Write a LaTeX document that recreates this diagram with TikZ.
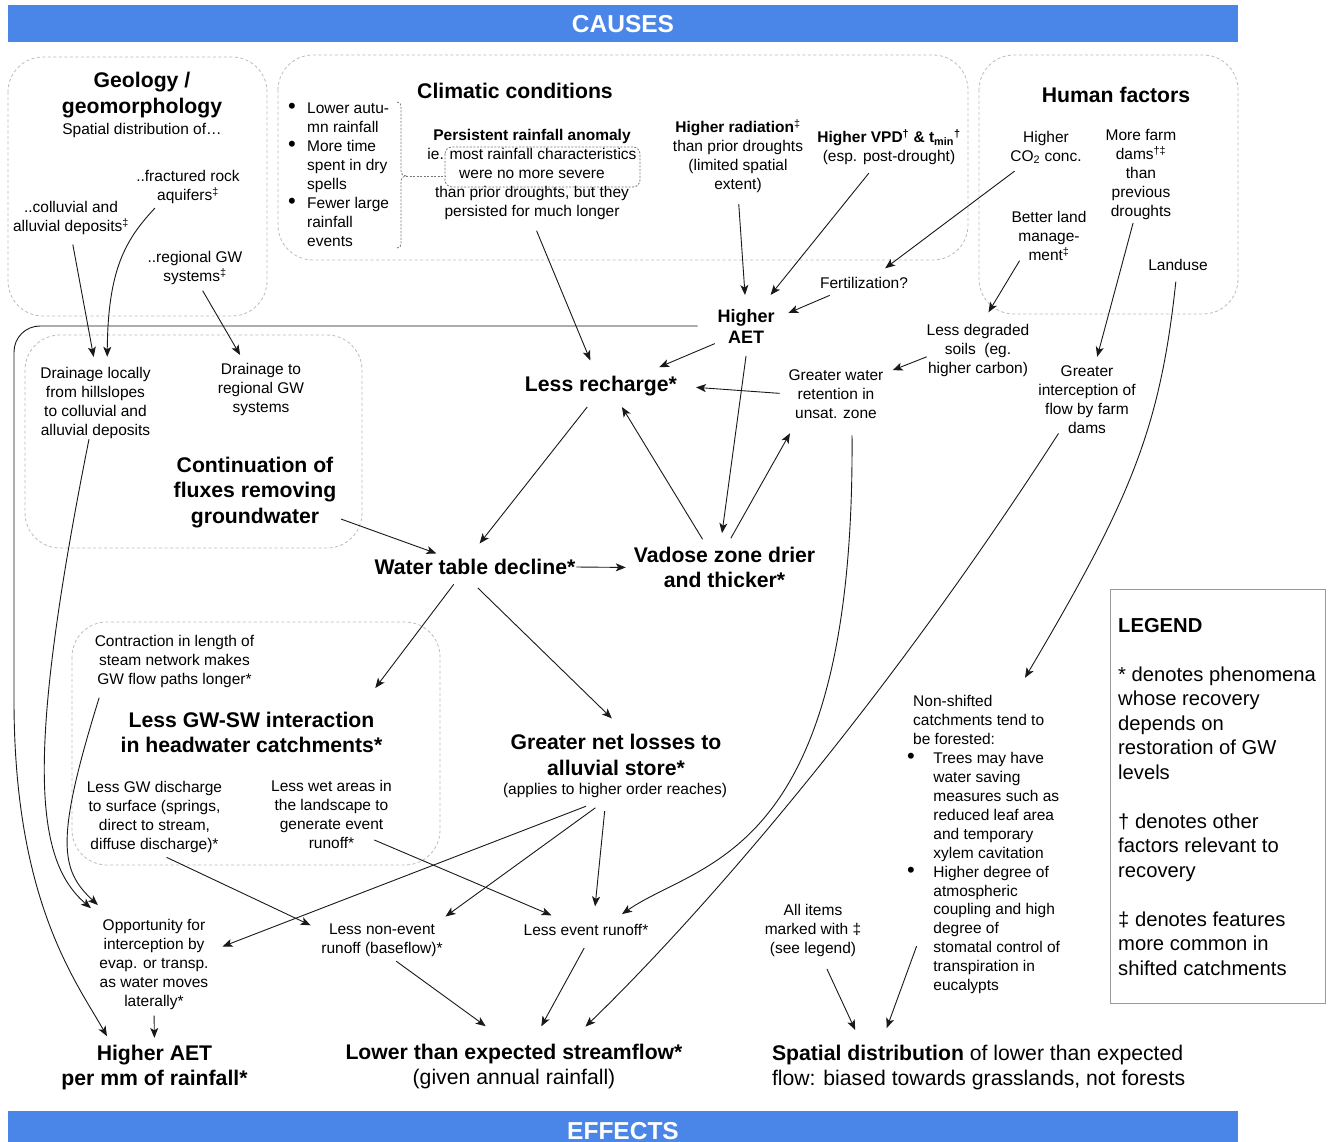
\documentclass[tikz,border=0pt]{standalone}
\usepackage{fontspec}
\setmainfont{Liberation Sans}
\usetikzlibrary{arrows.meta}
\definecolor{banner}{HTML}{4A86E8}
\definecolor{grpc}{HTML}{BBBBBB}
\definecolor{legc}{HTML}{999999}
\definecolor{bracc}{HTML}{777777}
\tikzset{
 sm/.style={font=\fontsize{15.5}{19}\selectfont, align=center, inner sep=0pt, outer sep=0pt},
 smb/.style={sm, font=\bfseries\fontsize{15.5}{19}\selectfont},
 big/.style={font=\bfseries\fontsize{21.2}{25.5}\selectfont, align=center, inner sep=0pt, outer sep=0pt},
 aetst/.style={font=\bfseries\fontsize{18}{21}\selectfont, align=center, inner sep=0pt, outer sep=0pt},
 bantext/.style={font=\bfseries\fontsize{24.5}{28}\selectfont, text=white, inner sep=0pt},
 arr/.style={draw=black!90, line width=0.9pt, -{Stealth[length=10pt,width=8pt,inset=2.5pt]}},
 grp/.style={draw=grpc, line width=0.8pt, dash pattern=on 3pt off 2.5pt, rounded corners=35pt},
 brk/.style={draw=bracc, line width=0.8pt, dash pattern=on 2pt off 1.5pt},
}
\newcommand{\bigbul}{{\fontsize{22}{19}\selectfont\textbullet}}
\begin{document}
\begin{tikzpicture}[x=1pt,y=-1pt]
\useasboundingbox (0,0) rectangle (1328,1142);
\fill[white] (0,0) rectangle (1328,1142);

% banners
\fill[banner] (8,5) rectangle (1238,42);
\node[bantext] (causes) at (623,24) {CAUSES};
\fill[banner] (8,1111) rectangle (1238,1142);
\node[bantext] (effects) at (623,1131) {EFFECTS};

% group boxes
\draw[grp] (8,57) rectangle (267,316);
\draw[grp] (278,55) rectangle (968,260);
\draw[grp] (979,55) rectangle (1238,314);
\draw[grp] (25,335) rectangle (362,548);
\draw[grp] (72,622) rectangle (440,865);

% legend box
\draw[draw=legc, line width=1pt] (1110,589) rectangle (1325,1003);

% Geology
\node[big] (geo) at (142,95) {Geology /\\geomorphology};
\node[sm] (spat) at (142,130) {Spatial distribution of…};
\node[sm] (frac) at (188,187) {..fractured rock\\aquifers\textsuperscript{‡}};
\node[sm] (coll) at (71,218) {..colluvial and\\alluvial deposits\textsuperscript{‡}};
\node[sm] (reg) at (195,268) {..regional GW\\systems\textsuperscript{‡}};

% Climatic
\node[big] (clim) at (515,91) {Climatic conditions};
\node[anchor=north west, inner sep=0pt, font=\fontsize{15.5}{19}\selectfont] (clist) at (288,100)
 {\begin{tabular}{@{}l@{\hspace{11.3pt}}l@{}}
 \bigbul & Lower autu-\\
 & mn rainfall\\
 \bigbul & More time\\
 & spent in dry\\
 & spells\\
 \bigbul & Fewer large\\
 & rainfall\\
 & events
 \end{tabular}};
\draw[brk] (397,102) .. controls (400,102) and (401,104) .. (401,107) -- (401,171)
 .. controls (401,174) and (403,176) .. (406,176) .. controls (403,176) and (401,178) .. (401,181)
 -- (401,243) .. controls (401,246) and (400,248) .. (397,248);
\draw[brk] (406,176) -- (445,176);
\draw[brk, rounded corners=7pt] (445,147) rectangle (640,187);
\node[smb] (pers) at (532,136) {Persistent rainfall anomaly};
\node[sm] (pers2) at (532,184) {ie. most rainfall characteristics\\were no more severe\\than prior droughts, but they\\persisted for much longer};
\node[sm] (rad) at (738,156.5) {\textbf{Higher radiation}\textsuperscript{‡}\\than prior droughts\\(limited spatial\\extent)};
\node[sm] (vpd) at (889,147) {\textbf{Higher VPD\textsuperscript{†} \& t\textsubscript{min}\textsuperscript{†}}\\(esp. post-drought)};

% Human factors
\node[big] (hum) at (1116,95) {Human factors};
\node[sm] (co2) at (1046,147.5) {Higher\\CO\textsubscript{2} conc.};
\node[sm] (farm) at (1141,175) {More farm\\dams\textsuperscript{†‡}\\than\\previous\\droughts};
\node[sm] (better) at (1049,236) {Better land\\manage-\\ment\textsuperscript{‡}};
\node[sm] (landuse) at (1178,265) {Landuse};

% middle
\node[sm] (fert) at (864,283) {Fertilization?};
\node[aetst] (aet) at (746,326) {Higher\\AET};
\node[big] (lr) at (601,386) {Less recharge*};
\node[sm] (gwr) at (836,394) {Greater water\\retention in\\unsat. zone};
\node[sm] (ldeg) at (978,350.5) {Less degraded\\soils\ \ (eg.\\higher carbon)};
\node[sm] (ginter) at (1087,399.5) {Greater\\interception of\\flow by farm\\dams};
\node[sm] (dloc) at (95.5,402.5) {Drainage locally\\from hillslopes\\to colluvial and\\alluvial deposits};
\node[sm] (dreg) at (261,389) {Drainage to\\regional GW\\systems};
\node[big] (cont) at (255,492.5) {Continuation of\\fluxes removing\\groundwater};
\node[big] (wtd) at (475,567) {Water table decline*};
\node[big] (vad) at (724.5,567.5) {Vadose zone drier\\and thicker*};
\node[sm] (contr) at (174.5,661) {Contraction in length of\\steam network makes\\GW flow paths longer*};
\node[big] (gwsw) at (251.5,732.5) {Less GW-SW interaction\\in headwater catchments*};
\node[sm] (lgwd) at (154.5,816.5) {Less GW discharge\\to surface (springs,\\direct to stream,\\diffuse discharge)*};
\node[sm] (lwet) at (331.5,814) {Less wet areas in\\the landscape to\\generate event\\runoff*};
\node[big] (gnl) at (616,755) {Greater net losses to\\alluvial store*};
\node[sm] (app) at (615,790) {(applies to higher order reaches)};

\node[anchor=north west, inner sep=0pt, font=\fontsize{15.5}{18.93}\selectfont] (ns) at (907,693.3)
 {\begin{tabular}{@{}l@{\hspace{18.5pt}}l@{}}
 \multicolumn{2}{@{\hspace{6pt}}l@{}}{Non-shifted}\\
 \multicolumn{2}{@{\hspace{6pt}}l@{}}{catchments tend to}\\
 \multicolumn{2}{@{\hspace{6pt}}l@{}}{be forested:}\\
 \bigbul & Trees may have\\
 & water saving\\
 & measures such as\\
 & reduced leaf area\\
 & and temporary\\
 & xylem cavitation\\
 \bigbul & Higher degree of\\
 & atmospheric\\
 & coupling and high\\
 & degree of\\
 & stomatal control of\\
 & transpiration in\\
 & eucalypts
 \end{tabular}};

\node[anchor=north west, inner sep=0pt, font=\fontsize{20.2}{24.5}\selectfont] (leg) at (1118,615)
 {\begin{tabular}{@{}l@{}}
 \textbf{LEGEND}\\
 \relax\\
 {*} denotes phenomena\\
 whose recovery\\
 depends on\\
 restoration of GW\\
 levels\\
 \relax\\
 {†} denotes other\\
 factors relevant to\\
 recovery\\
 \relax\\
 {‡} denotes features\\
 more common in\\
 shifted catchments
 \end{tabular}};

% bottom
\node[sm] (opp) at (154,964.5) {Opportunity for\\interception by\\evap. or transp.\\as water moves\\laterally*};
\node[sm] (lne) at (382,940) {Less non-event\\runoff (baseflow)*};
\node[sm] (lev) at (586,930) {Less event runoff*};
\node[sm] (alli) at (813,930) {All items\\marked with ‡\\(see legend)};
\node[big] (haet2) at (154.5,1067.5) {Higher AET\\per mm of rainfall*};
\node[sm, font=\fontsize{21.2}{25.5}\selectfont] (lower) at (514,1066.5) {\textbf{Lower than expected streamflow*}\\(given annual rainfall)};
\node[sm, align=left, anchor=north west, font=\fontsize{21.2}{25.5}\selectfont] (sdist) at (772,1045) {\textbf{Spatial distribution} of lower than expected\\flow: biased towards grasslands, not forests};

% connectors
\draw[arr, shorten <=10pt, shorten >=10pt] (coll.south) -- (dloc.north);
\draw[arr, shorten <=6pt, shorten >=10pt] (frac.-150) .. controls (125,240) and (108,270) .. (dloc.72);
\draw[arr, shorten <=7pt, shorten >=9pt] (reg.-76) -- (dreg.122);
\draw[arr, shorten <=12pt, shorten >=17pt] (pers2.south) -- (lr.113);
\draw[arr, shorten <=11pt, shorten >=14pt] (rad.south) -- (aet.north);
\draw[arr, shorten <=11pt, shorten >=18pt] (vpd.-127) -- (aet.52);
\draw[arr, shorten <=12pt, shorten >=15pt] (co2.-143.5) -- (fert.32.5);
\draw[arr, shorten <=17pt, shorten >=15pt] (fert.-163) -- (aet.14);
\draw[arr, shorten >=14pt] (better.-140) -- (ldeg.83);
\draw[arr, shorten <=3pt, shorten >=9pt] (farm.-99) -- (ginter.77.5);
\draw[arr, shorten <=11pt, shorten >=18pt] (landuse.-100) .. controls (1160,430) and (1130,500) .. (ns.78);
\draw[arr, shorten <=3pt, shorten >=23pt] (aet.-150) -- (lr.15);
\draw[arr, shorten <=13pt, shorten >=14pt] (aet.-84) -- (vad.102);
\draw[arr, shorten <=9pt, shorten >=19pt] (gwr.west) -- (lr.east);
\draw[arr, shorten >=10pt] (ldeg.-173) -- (gwr.23);
\draw[arr, shorten <=9pt, shorten >=13pt] (vad.130) -- (lr.-35.5);
\draw[arr, shorten <=10pt, shorten >=17pt] (vad.86) -- (gwr.-147.6);
\draw[arr, shorten <=14pt, shorten >=20pt] (lr.-117) -- (wtd.135);
\draw[arr, shorten <=5pt, shorten >=17pt] (cont.-17) -- (wtd.161.6);
\draw[arr, shorten <=1pt, shorten >=8pt] (wtd.east) -- (vad.west);
\draw[arr, shorten <=12pt, shorten >=30pt] (wtd.-151) -- (gwsw.11.8);
\draw[arr, shorten <=19pt, shorten >=23pt] (wtd.-144.5) -- (gnl.59.4);
\draw[arr, shorten <=17pt, shorten >=18pt] (gwr.-57) .. controls (855,860) and (700,860) .. (lev.15);
\draw[arr, shorten >=25pt] (ginter.-130.6) .. controls (835,780) and (630,984) .. (lower.23.7);
\draw[arr, shorten <=25pt, shorten >=15pt] (app.-128) -- (opp.13);
\draw[arr, shorten <=18pt, shorten >=12pt] (app.-125.5) -- (lne.17);
\draw[arr, shorten <=14pt, shorten >=18pt] (app.-141) -- (lev.38);
\draw[arr, shorten <=12pt, shorten >=12pt] (lgwd.-88) -- (lne.171);
\draw[arr, shorten <=-19pt, shorten >=23pt] (lwet.-29.8) -- (lev.157.6);
\draw[arr, shorten <=8pt, shorten >=30pt] (lne.-65) -- (lower.100);
\draw[arr, shorten <=14pt, shorten >=20pt] (lev.-49) -- (lower.52);
\draw[arr, shorten <=14pt, shorten >=16.6pt] (alli.-73) -- (sdist.169.1);
\draw[arr, shorten <=-28pt, shorten >=18pt] (ns.-121) -- (sdist.167.3);
\draw[arr, shorten <=6pt, shorten >=7pt] (opp.south) -- (haet2.north);
\draw[arr, shorten <=20pt, shorten >=10pt] (aet.west) -- (40,326) .. controls (25.6,326) and (14,337.6) .. (14,352)
 -- (14,700) .. controls (14,900) and (75,980) .. (haet2.152.6);
\draw[arr, shorten <=1pt, shorten >=17pt] (dloc.-100) .. controls (25,760) and (35,860) .. (opp.138.9);
\draw[arr, shorten <=11pt, shorten >=21pt] (contr.-160.5) .. controls (55,840) and (60,870) .. (opp.132.7);
\end{tikzpicture}
\end{document}
